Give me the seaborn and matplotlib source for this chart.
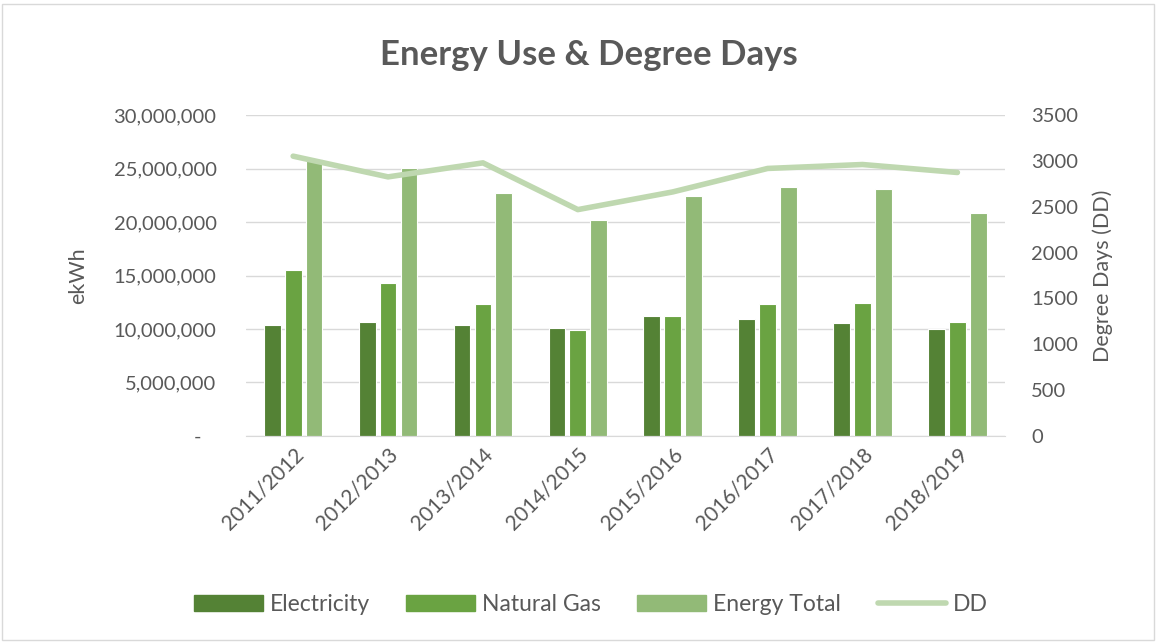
import matplotlib.pyplot as plt
import matplotlib.ticker as mticker
import seaborn as sns
import pandas as pd

years = ['2011/2012', '2012/2013', '2013/2014', '2014/2015',
         '2015/2016', '2016/2017', '2017/2018', '2018/2019']
electricity = [10420000, 10700000, 10420000, 10140000, 11240000, 10950000, 10550000, 10020000]
natural_gas = [15510000, 14300000, 12300000, 9900000, 11240000, 12300000, 12420000, 10700000]
energy_total = [25900000, 25100000, 22700000, 20200000, 22400000, 23250000, 23100000, 20850000]
degree_days = [3052, 2826, 2979, 2469, 2662, 2918, 2961, 2874]

series_names = ['Electricity', 'Natural Gas', 'Energy Total']
bar_colors = ['#548235', '#6aa342', '#92ba77']
line_color = '#bfd8b0'
text_color = '#595959'

sns.set_style('white')
plt.rcParams['font.family'] = ['Lato', 'DejaVu Sans']


def to_long():
    rows = []
    for name, vals in zip(series_names, [electricity, natural_gas, energy_total]):
        for y, v in zip(years, vals):
            rows.append({'Year': y, 'Series': name, 'Value': v})
    return pd.DataFrame(rows)


def fmt_left(v, pos):
    if v == 0:
        return '-   '
    return '{:,.0f}'.format(v)


df = to_long()

fig = plt.figure(figsize=(11.59, 6.43), dpi=100)
ax = fig.add_axes([0.212, 0.322, 0.655, 0.499])

sns.barplot(data=df, x='Year', y='Value', hue='Series', palette=bar_colors,
            width=0.66, gap=0.2, ax=ax, legend=False, saturation=1,
            edgecolor='white', linewidth=0.8)
ax.set_ylim(0, 30000000)
ax.yaxis.set_major_locator(mticker.MultipleLocator(5000000))
ax.yaxis.set_major_formatter(mticker.FuncFormatter(fmt_left))
ax.grid(axis='y', color='#d9d9d9', lw=1)
ax.set_axisbelow(True)
ax.set_xlabel('')
ax.set_ylabel('ekWh', fontsize=15.5, color=text_color, labelpad=18)
ax.tick_params(axis='y', length=0, labelsize=14.5, labelcolor=text_color, pad=21)
ax.tick_params(axis='x', length=0, labelsize=15, labelcolor=text_color, pad=6)
plt.setp(ax.get_xticklabels(), rotation=45, ha='right', rotation_mode='anchor')
for s in ['top', 'left', 'right']:
    ax.spines[s].set_visible(False)
ax.spines['bottom'].set_color('#d9d9d9')
ax.set_xlim(-0.5, len(years) - 0.5)

ax2 = ax.twinx()
ax2.plot(range(len(years)), degree_days, color=line_color, lw=4,
         solid_capstyle='round', label='DD')
ax2.set_ylim(0, 3500)
ax2.yaxis.set_major_locator(mticker.MultipleLocator(500))
ax2.set_ylabel('Degree Days (DD)', fontsize=15.5, color=text_color, labelpad=10)
ax2.tick_params(axis='y', length=0, labelsize=14.5, labelcolor=text_color, pad=19)
for s in ['top', 'left', 'right', 'bottom']:
    ax2.spines[s].set_visible(False)

fig.text(0.508, 0.915, 'Energy Use & Degree Days', ha='center', va='center',
         fontsize=25, fontweight='bold', color=text_color)

handles = [plt.Rectangle((0, 0), 1, 1, color=c) for c in bar_colors]
handles.append(plt.Line2D([0], [0], color=line_color, lw=4, solid_capstyle='round'))
fig.legend(handles, series_names + ['DD'], loc='center', bbox_to_anchor=(0.51, 0.06),
           ncol=4, frameon=False, fontsize=16.5, labelcolor=text_color,
           handlelength=3.0, handleheight=0.7, handletextpad=0.3, columnspacing=1.6)

fig.patches.append(plt.Rectangle((0.002, 0.004), 0.994, 0.99, transform=fig.transFigure,
                                 fill=False, edgecolor='#d9d9d9', lw=1))

plt.savefig('out.png', dpi=100)
plt.close()
